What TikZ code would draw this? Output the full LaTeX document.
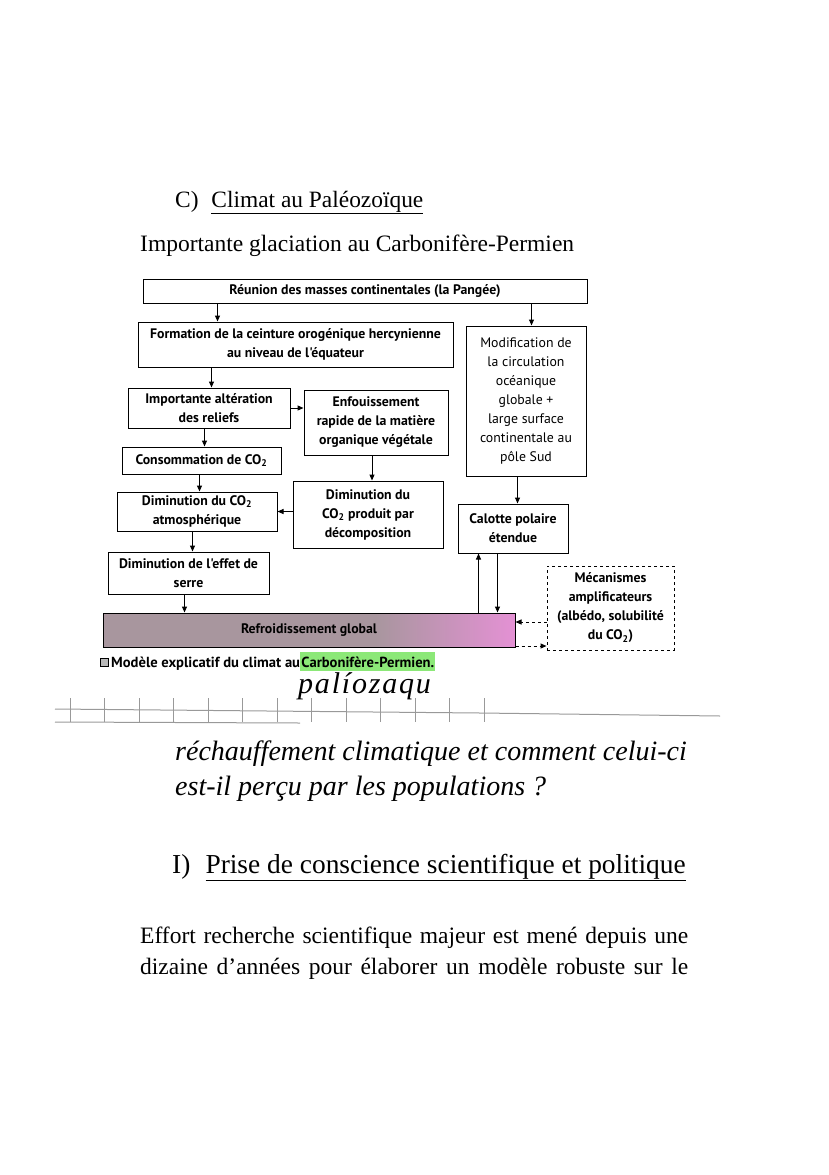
\documentclass[tikz,border=0pt]{standalone}
\usepackage{fontspec}
\setmainfont{Liberation Serif}
\newfontfamily\diagfont{PT Sans}
\usetikzlibrary{arrows.meta,positioning,calc}
\definecolor{rule}{gray}{0.6}
\definecolor{barfill}{RGB}{168,150,158}
\definecolor{barpink}{RGB}{228,145,212}
\definecolor{hilite}{RGB}{140,232,120}
\pgfdeclarehorizontalshading{barshade}{100bp}{color(0bp)=(barfill); color(58bp)=(barfill); color(75bp)=(barpink); color(100bp)=(barpink)}

\begin{document}
\begin{tikzpicture}[x=1pt,y=-1pt,
  box/.style={draw,line width=1pt,align=center,inner sep=1pt,
    font=\diagfont\bfseries\fontsize{13.8}{19}\selectfont},
  arr/.style={line width=1pt,-{Triangle[length=6pt,width=5pt]}},
  dasharr/.style={arr,dashed},
  txt/.style={anchor=base west,inner sep=0pt}]
\useasboundingbox (0,0) rectangle (828,1175);

% headings
\node[txt,font=\fontsize{23.4}{28}\selectfont] (titc) at (175,207) {C)\hspace{0.55em}\underline{Climat au Paléozoïque}};
\node[txt,font=\fontsize{23.5}{28}\selectfont] (glac) at (140,251) {Importante glaciation au Carbonifère-Permien};

% diagram
\node[box,minimum width=444,minimum height=24] (reu) at (365,291) {Réunion des masses continentales (la Pangée)};
\node[box,minimum width=315,minimum height=45] (form) at (295.5,344.5) {Formation de la ceinture orogénique hercynienne\\au niveau de l'équateur};
\node[box,minimum width=120,minimum height=150,font=\diagfont\fontsize{13.8}{19}\selectfont] (modif) at (526,401) {Modification de\\la circulation\\océanique\\globale +\\large surface\\continentale au\\pôle Sud};
\node[box,minimum width=162,minimum height=40] (alter) at (209,408) {Importante altération\\des reliefs};
\node[box,minimum width=144,minimum height=65] (enfou) at (376,422.5) {Enfouissement\\rapide de la matière\\organique végétale};
\node[box,minimum width=159,minimum height=27] (conso) at (201.5,460.5) {Consommation de CO\textsubscript{2}};
\node[box,minimum width=160,minimum height=39] (dimatm) at (197,511.5) {Diminution du CO\textsubscript{2}\\atmosphérique};
\node[box,minimum width=150,minimum height=67] (dimdec) at (368,514.5) {Diminution du\\CO\textsubscript{2} produit par\\décomposition};
\node[box,minimum width=161,minimum height=42] (serre) at (188.5,573) {Diminution de l'effet de\\serre};
\node[box,minimum width=110,minimum height=49] (cal) at (513,528.5) {Calotte polaire\\étendue};
\node[box,minimum width=412,minimum height=34,shading=barshade] (bar) at (309,630) {Refroidissement global};
\node[box,dashed,minimum width=127,minimum height=84] (meca) at (610.5,608) {Mécanismes\\amplificateurs\\(albédo, solubilité\\du CO\textsubscript{2})};

\draw[arr] ([xshift=80]form.north west |- reu.south) -- ([xshift=80]form.north west);
\draw[arr] ([xshift=66]modif.north west |- reu.south) -- ([xshift=66]modif.north west);
\draw[arr] ([xshift=84]alter.north west |- form.south) -- ([xshift=84]alter.north west);
\draw[arr] (alter.east) -- (alter.east -| enfou.west);
\draw[arr] ([xshift=83]conso.north west |- alter.south) -- ([xshift=83]conso.north west);
\draw[arr] ([xshift=83]dimatm.north west |- conso.south) -- ([xshift=83]dimatm.north west);
\draw[arr] ([xshift=-4]enfou.south) -- ([xshift=-4]enfou.south |- dimdec.north);
\draw[arr] (dimdec.west |- dimatm.east) -- (dimatm.east);
\draw[arr] ([xshift=85]serre.north west |- dimatm.south) -- ([xshift=85]serre.north west);
\draw[arr] ([xshift=77]serre.south west) -- ([xshift=77]serre.south west |- bar.north);
\draw[arr] ([xshift=52]modif.south west) -- ([xshift=52]modif.south west |- cal.north);
\draw[arr] ([xshift=21]cal.south west |- bar.north) -- ([xshift=21]cal.south west);
\draw[arr] ([xshift=40]cal.south west) -- ([xshift=40]cal.south west |- bar.north);
\draw[dasharr] ([yshift=-14]meca.west) -- ([yshift=-14]meca.west -| bar.east);
\draw[dasharr] ([yshift=-16]bar.east) -- ([yshift=-16]bar.east -| meca.west);

% caption
\node[draw,fill=gray!55,line width=0.8pt,minimum size=8,inner sep=0pt] (sq) at (104,662) {};
\node[txt,font=\diagfont\bfseries\fontsize{14.6}{16}\selectfont] (cap) at (111,667) {Modèle explicatif du climat au\ };
\node[txt,font=\diagfont\bfseries\fontsize{14.6}{16}\selectfont,fill=hilite,inner ysep=4pt,inner xsep=1pt] (capb) at (cap.base east) {Carbonifère-Permien.};

% handwritten note and ruled edge
\node[txt,font=\itshape\fontsize{30}{32}\selectfont] (hand) at (298,693) {\addfontfeature{LetterSpace=6}palíozaqu};
\draw[rule,line width=1pt] (55,709) -- (480,713) -- (720,716);
\draw[rule,line width=1pt] (55,722) -- (300,723);
\foreach \i in {0,...,12} \draw[rule,line width=1pt] (70+34.5*\i,698) -- (70+34.5*\i,722);

% text below
\node[txt,font=\itshape\fontsize{28}{32}\selectfont] (q1) at (175,760) {réchauffement climatique et comment celui-ci};
\node[txt,font=\itshape\fontsize{28}{32}\selectfont] (q2) at (175,795) {est-il perçu par les populations ?};
\node[txt,font=\fontsize{27.4}{32}\selectfont] (titi) at (172,873) {I)\hspace{0.55em}\underline{Prise de conscience scientifique et politique}};
\node[txt,font=\fontsize{23.5}{28}\selectfont] (p1) at (140,943) {\makebox[548pt][s]{Effort recherche scientifique majeur est mené depuis une}};
\node[txt,font=\fontsize{23.5}{28}\selectfont] (p2) at (140,974) {\makebox[548pt][s]{dizaine d’années pour élaborer un modèle robuste sur le}};
\end{tikzpicture}
\end{document}
